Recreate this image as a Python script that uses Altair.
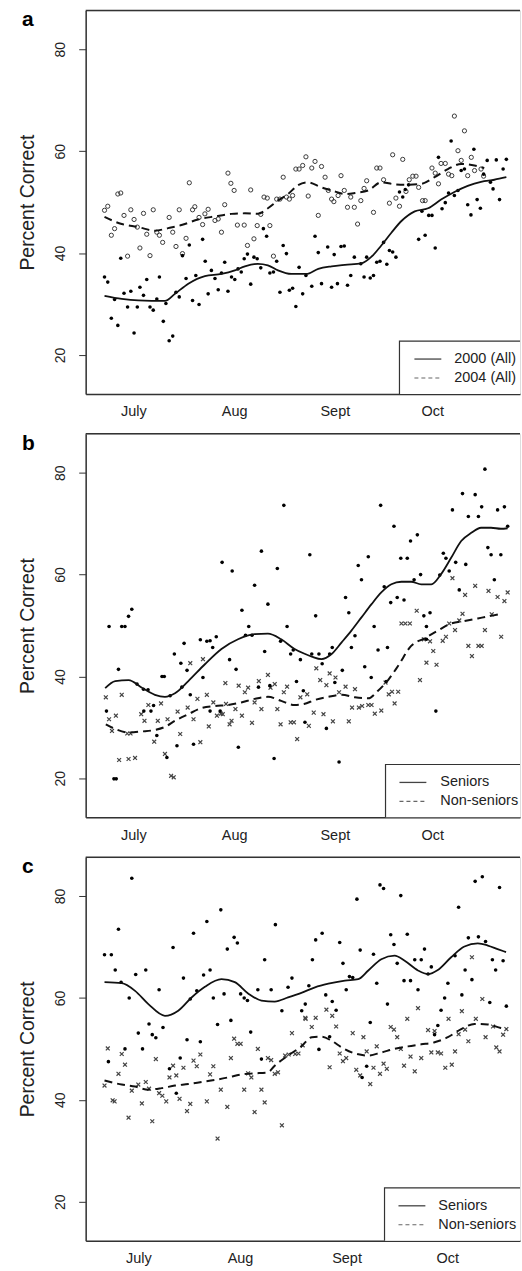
import altair as alt
import pandas as pd

FONT = "Liberation Sans"
W, H = 436, 385
XDOM = [-14.7, 119.0]
YDOM = [12.35, 87.65]
MONTHS = ["July", "Aug", "Sept", "Oct"]
MONTH_DAYS_AB = [0, 31, 62, 92]
MONTH_DAYS_C = [1.5, 32.8, 65.6, 96.6]
Y_TICKS = [20, 40, 60, 80]

# ---------------- panel a ----------------
A_2000 = [(-8.9,35.3),(-7.9,34.3),(-6.8,27.2),(-5.8,30.9),(-4.8,25.8),(-3.9,39.0),(-2.9,32.1),(-1.8,29.4),(-0.8,32.5),(0.2,24.3),
          (1.2,29.4),(2.0,33.3),(3.1,31.7),(4.1,34.8),(5.1,29.4),(6.1,28.8),(7.2,31.0),(8.0,35.3),(9.2,26.6),(10.0,30.1),
          (11.0,22.8),(12.1,23.7),(13.1,32.3),(14.1,31.4),(15.1,39.5),(16.2,35.0),(17.2,41.6),(18.2,30.7),(19.2,35.6),(20.2,29.9),
          (21.3,42.7),(22.1,38.4),(23.0,32.0),(24.0,36.6),(25.1,35.0),(26.1,32.8),(27.1,36.1),(28.1,38.2),(29.1,32.5),(30.2,35.3),
          (31.2,34.8),(32.2,36.9),(33.2,36.3),(34.1,38.9),(35.1,39.8),(36.1,33.9),(37.1,39.2),(38.1,38.9),(39.2,37.1),(40.0,44.8),
          (41.0,43.3),(42.0,36.1),(43.1,36.3),(44.1,38.4),(45.1,32.3),(46.1,41.5),(47.1,39.9),(48.0,32.7),(49.0,33.1),(50.0,29.5),
          (51.0,37.2),(52.1,32.0),(53.1,35.6),(54.9,33.5),(55.9,43.3),(56.9,40.1),(57.9,34.0),(59.8,41.2),(61.0,33.3),(61.8,39.7),
          (62.8,34.0),(63.9,41.3),(64.9,41.4),(65.9,33.7),(66.9,35.6),(68.0,39.2),(70.0,37.9),(71.0,35.3),(71.8,39.2),(72.9,35.1),
          (73.9,35.6),(74.9,38.2),(75.9,38.4),(77.0,42.1),(78.0,37.8),(78.8,40.5),(79.8,40.2),(80.8,39.2),(81.9,52.0),(82.9,51.0),
          (83.7,52.5),(84.7,53.4),(87.8,42.7),(88.8,48.2),(89.8,43.5),(90.9,47.4),(91.9,47.4),(92.9,41.0),(93.9,58.8),(95.0,48.7),
          (96.0,49.9),(97.0,51.8),(97.8,62.0),(98.8,51.3),(99.9,52.3),(100.9,56.2),(101.9,56.5),(102.9,49.5),(103.9,47.5),(104.8,60.4),
          (105.8,50.5),(106.8,48.8),(107.8,55.5),(108.9,58.2),(109.9,53.9),(110.7,52.6),(111.7,58.3),(112.7,50.5),(113.8,56.5),(114.8,58.4)]
A_2004 = [(-8.9,48.4),(-7.9,49.2),(-6.8,43.5),(-5.8,44.8),(-4.8,51.6),(-3.9,51.8),(-2.9,47.4),(-1.8,39.4),(-0.8,48.5),(0.2,46.6),
          (1.2,45.1),(2.0,41.0),(3.1,47.8),(4.1,43.7),(5.1,39.5),(6.1,48.5),(7.2,44.1),(8.0,43.5),(9.0,42.1),(11.0,47.0),
          (12.1,44.1),(13.1,41.3),(14.1,48.5),(15.1,39.9),(16.2,42.9),(17.2,53.8),(18.2,48.5),(18.9,49.1),(20.2,47.0),(21.3,45.6),
          (22.0,47.7),(23.0,48.6),(25.1,46.4),(26.1,46.7),(27.1,44.1),(28.1,49.5),(29.1,55.7),(30.0,53.7),(31.0,52.3),(32.0,45.5),
          (34.1,45.5),(35.1,41.5),(36.1,52.4),(37.1,42.8),(38.1,45.4),(39.2,47.6),(40.2,51.0),(41.2,50.8),(42.0,45.4),(43.1,39.4),
          (44.1,50.6),(45.1,50.6),(46.1,54.9),(47.1,51.0),(48.0,50.6),(49.0,51.3),(50.0,56.5),(51.0,56.5),(52.1,57.2),(53.1,58.9),
          (53.8,51.2),(54.9,56.7),(55.9,58.0),(56.9,47.4),(57.9,57.0),(59.0,54.9),(60.0,52.3),(61.0,50.6),(61.7,50.1),(63.0,51.3),
          (63.9,55.2),(64.9,52.3),(65.9,49.0),(66.9,51.0),(68.0,49.0),(69.0,45.7),(70.0,50.3),(71.0,52.7),(71.8,54.2),(73.9,48.0),
          (74.9,56.7),(75.9,56.7),(77.0,54.4),(78.8,49.8),(79.8,59.3),(80.8,50.8),(81.9,49.2),(82.9,58.4),(83.9,52.1),(84.9,54.4),
          (86.0,55.1),(87.0,55.1),(87.8,52.9),(89.0,50.3),(89.8,50.3),(91.9,56.7),(92.9,55.7),(93.9,53.6),(94.7,57.6),(96.0,57.6),
          (97.0,55.5),(98.0,55.2),(98.8,66.9),(99.9,60.1),(100.9,58.2),(101.9,64.0),(102.9,55.2),(104.0,58.8),(105.0,56.2),(107.0,56.5),
          (107.8,55.1)]
A_2000_FIT = [(-8.9,31.6),(-3.6,31.0),(1.5,30.7),(9.7,30.6),(12.8,32.0),(16.9,34.0),(22.0,35.5),(27.1,35.9),(31.2,36.6),(34.3,37.4),
              (38.3,37.9),(41.4,37.6),(44.5,36.6),(48.6,35.9),(53.2,35.9),(56.9,36.9),(61.0,37.4),(65.1,37.7),(70.2,38.0),(73.3,39.3),
              (76.3,41.5),(79.4,44.0),(82.5,46.3),(86.6,48.2),(90.7,48.8),(94.7,50.5),(98.8,52.0),(102.9,53.2),(107.0,54.0),(111.1,54.4),
              (114.8,54.9)]
A_2004_FIT = [(-8.9,47.1),(-3.6,45.7),(1.5,45.1),(6.6,44.4),(10.7,44.9),(14.8,45.5),(19.9,46.6),(25.1,47.2),(30.2,47.7),(34.3,47.8),
              (38.3,47.7),(41.4,48.8),(44.5,50.3),(47.6,51.6),(50.6,53.3),(53.5,53.9),(57.9,52.9),(62.0,52.1),(65.1,51.6),(68.2,51.8),
              (72.3,52.3),(76.3,53.9),(80.4,53.5),(84.5,53.4),(88.6,53.6),(92.7,54.9),(96.8,56.5),(100.9,57.5),(105.0,57.2),(108.0,56.7)]

# ---------------- panel b ----------------
B_SEN = [(-8.3,33.2),(-6.0,19.9),(-5.3,19.9),(1.1,38.5),(3.1,37.5),(4.5,37.4),(3.2,33.2),(5.4,33.2),(6.2,34.3),(7.2,28.4),
         (8.8,40.0),(9.5,40.0),(10.3,24.1),(11.3,36.2),(13.4,26.4),(14.9,37.9),(18.5,26.7),(17.5,36.4),(21.4,39.8),(23.6,33.2),
         (26.7,33.2),(32.3,26.1),(38.5,37.9),(42.0,38.2),(43.3,23.9),(50.2,39.0),(52.3,37.2),(52.8,31.0),(59.4,29.8),(62.0,38.8),
         (63.3,23.2),(73.2,39.8),(77.8,39.0),(93.1,33.2),
         (-7.5,49.8),(-3.6,49.8),(-2.6,49.8),(-1.5,51.8),(-0.5,53.2),(-4.6,41.4),(12.6,44.4),(14.6,42.6),(15.6,46.5),(16.5,41.2),
         (20.6,47.2),(22.6,46.9),(23.6,47.0),(24.4,45.7),(25.5,47.8),(29.6,43.3),(31.6,41.4),(33.4,53.0),(34.5,48.1),(35.5,49.8),
         (36.5,48.1),(37.3,57.9),(39.4,64.6),(41.4,54.2),(44.3,61.2),(40.4,44.9),(45.3,46.9),(46.3,73.6),(47.3,49.8),(48.4,44.4),
         (49.2,45.2),(51.4,43.3),(27.3,62.4),(30.4,60.7),
         (54.3,63.9),(56.1,51.9),(54.9,44.4),(57.1,44.4),(58.1,42.5),(61.2,45.7),(60.4,44.4),(64.3,41.2),(65.3,55.5),(66.3,52.5),
         (67.1,45.7),(68.2,48.0),(69.2,61.8),(70.2,59.0),(71.2,41.9),(72.3,63.5),(74.1,49.8),(75.3,45.2),(76.1,73.6),(77.2,57.6),
         (78.2,45.7),(79.2,54.5),(80.2,69.5),(81.2,55.5),(82.3,63.2),(83.3,55.0),(84.3,63.2),(85.3,66.6),(86.4,59.0),(87.4,67.8),
         (88.4,60.0),(89.4,51.9),(90.2,49.8),(91.3,52.5),(90.2,47.3),(94.3,59.9),(95.4,64.2),(96.2,63.2),(97.2,60.7),(99.2,62.4),
         (98.2,72.7),(100.3,57.0),(101.3,75.9),(102.3,62.0),(103.1,71.4),(105.2,75.7),(106.2,71.4),(107.2,73.3),(108.2,80.7),(109.1,65.3),
         (110.1,63.9),(111.1,59.0),(112.1,72.7),(113.1,63.9),(114.2,73.3),(115.2,69.5)]
B_NON = [(-8.5,35.9),(-3.6,36.4),(-7.5,31.6),(-5.4,32.3),(4.6,34.4),(8.5,34.7),(2.4,32.6),(3.4,31.3),(7.5,31.3),(10.5,31.6),
         (13.6,33.1),(16.7,33.9),(18.5,31.6),(19.7,35.6),(22.6,36.4),(24.6,34.9),(25.7,32.3),(26.9,32.7),(27.5,32.6),(28.5,34.6),
         (31.4,33.6),(32.4,38.2),(33.4,32.3),(34.3,36.9),(35.3,37.8),(36.5,30.9),(37.3,34.9),(38.6,39.1),(39.4,33.6),(41.4,40.3),
         (42.2,37.8),(43.5,38.5),(44.3,33.6),(45.3,30.6),(46.3,36.9),(47.3,38.0),(48.4,31.0),(49.4,31.0),(50.4,27.7),(51.4,35.9),
         (53.5,36.5),(17.5,42.6),(21.4,43.4),(28.3,38.7),(30.2,31.3),(29.6,30.6),(23.2,30.2),(14.4,28.7),(6.4,27.2),(-1.9,28.8),
         (-0.9,28.8),(-6.6,29.3),(-4.4,23.6),(-1.5,23.8),(0.5,24.0),(9.7,24.8),(11.6,20.5),(12.4,20.2),(20.6,27.1),
         (54.0,30.3),(55.5,32.9),(56.3,41.6),(57.5,39.3),(58.5,32.6),(59.4,38.3),(60.4,40.6),(61.4,31.2),(62.2,39.8),(63.3,36.9),
         (65.3,38.0),(66.3,31.2),(67.3,33.9),(68.2,37.5),(69.4,33.9),(70.4,34.2),(72.3,34.4),(73.3,34.4),(74.3,32.7),(76.3,33.3),
         (77.6,38.8),(78.6,36.5),(79.6,37.0),(80.4,34.7),(81.5,37.0),(82.5,50.4),(83.7,50.4),(85.1,50.4),(87.2,52.9),(88.2,39.3),
         (89.4,47.3),(90.2,42.7),(91.3,46.9),(92.3,45.0),(93.3,42.3),(95.2,47.0),(96.2,47.8),(97.2,50.4),(98.2,59.3),(99.0,49.1),
         (100.3,51.0),(101.3,52.3),(102.1,56.0),(103.1,46.0),(104.2,44.0),(105.2,57.8),(106.2,46.0),(107.2,46.0),(108.2,49.1),(109.3,56.8),
         (110.3,52.2),(112.1,55.6),(113.2,47.8),(114.2,54.8),(115.2,56.5)]
B_SEN_FIT = [(-8.7,37.7),(-5.6,39.1),(-1.5,39.3),(2.6,37.8),(6.6,36.4),(9.7,36.0),(12.8,36.7),(16.9,39.1),(22.0,42.4),(27.1,45.4),
             (32.2,47.3),(37.3,48.3),(41.4,48.4),(45.5,47.3),(49.6,45.4),(52.5,44.5),(54.9,43.9),(57.9,43.4),(61.0,44.4),(64.1,46.7),
             (67.1,49.0),(70.2,51.6),(73.3,54.2),(76.3,56.5),(79.4,58.1),(82.5,58.6),(85.5,58.6),(88.6,58.1),(91.7,58.1),(94.7,60.1),
             (97.8,63.3),(100.9,66.6),(104.0,68.2),(107.0,69.2),(110.1,69.2),(113.1,69.0),(115.2,69.1)]
B_NON_FIT = [(-8.5,30.6),(-5.6,29.7),(-1.5,29.0),(2.6,29.2),(6.6,29.5),(9.7,30.1),(12.8,31.3),(16.9,32.6),(21.0,33.8),(25.1,34.2),
             (29.1,34.4),(33.2,34.9),(37.3,35.6),(41.4,36.0),(45.5,35.2),(49.6,34.4),(52.5,34.6),(55.9,35.4),(60.0,36.0),(64.1,36.4),
             (68.2,35.9),(72.3,35.7),(75.3,37.2),(78.4,39.3),(81.5,42.1),(85.5,46.0),(89.6,47.5),(93.7,49.0),(97.8,50.4),(101.9,50.9),
             (106.0,51.4),(110.1,51.9),(113.1,52.3)]

# ---------------- panel c ----------------
C_SEN = [(-8.9,68.5),(-6.8,68.5),(-5.6,65.5),(-4.6,73.5),(-3.8,63.1),(-1.3,60.0),(-0.5,83.5),(0.7,64.6),(1.5,53.1),(2.8,50.0),
         (3.8,65.5),(4.8,54.9),(5.8,52.8),(6.9,52.2),(7.9,61.6),(9.1,54.2),(11.1,46.1),(12.2,69.9),(13.2,41.3),(14.4,48.2),
         (15.4,63.9),(16.5,51.8),(17.5,59.8),(18.5,72.7),(19.5,61.4),(20.6,51.4),(21.6,64.5),(22.6,75.0),(23.6,65.5),(24.6,60.0),
         (25.9,54.8),(26.9,77.3),(27.9,60.8),(28.9,69.6),(30.0,55.6),(31.0,71.9),(32.0,70.8),(33.0,60.8),(34.1,60.0),(35.1,59.5),
         (36.1,53.3),(38.3,61.6),(39.4,48.0),(40.4,67.5),(42.4,61.6),(43.7,74.4),(45.7,57.5),(47.6,62.1),(48.8,63.9),(51.8,57.5),
         (52.9,58.8),(-7.7,47.5),(-2.6,50.0),
         (54.0,62.4),(55.1,67.5),(56.1,71.4),(58.1,72.7),(59.2,60.6),(61.2,59.3),(62.4,57.6),(63.5,70.9),(64.5,66.8),(65.5,61.6),
         (66.5,64.2),(67.5,64.0),(68.8,79.4),(69.8,69.4),(72.9,55.2),(73.9,68.6),(74.9,62.9),(75.9,82.2),(77.0,81.5),(78.2,58.8),
         (79.2,72.4),(80.2,70.5),(81.2,66.8),(82.3,80.1),(83.3,63.4),(84.3,72.5),(85.3,63.4),(86.6,67.5),(87.6,61.6),(88.6,67.5),
         (89.6,69.6),(90.7,64.7),(91.7,66.1),(92.7,52.8),(93.7,54.6),(94.7,57.6),(95.8,60.0),(96.8,62.9),(99.0,68.3),(100.1,77.8),
         (101.1,60.6),(102.1,65.5),(103.1,71.8),(104.2,63.6),(105.2,82.9),(106.2,72.0),(107.4,83.8),(108.4,71.1),(109.7,59.1),(110.5,67.5),
         (111.5,65.5),(112.7,81.7),(113.8,67.3),(114.8,58.4),(71.8,46.6),(70.4,44.4),(60.4,52.4),(57.1,49.9)]
C_NON = [(-7.9,50.1),(-8.9,42.8),(-6.4,39.9),(-5.8,39.7),(-4.6,45.1),(-3.6,49.0),(-2.6,46.9),(-1.5,36.5),(-0.5,41.8),(1.5,43.0),
         (2.6,39.3),(3.8,43.5),(4.8,42.2),(5.8,35.8),(6.9,48.0),(7.9,41.3),(8.9,40.8),(10.1,39.7),(11.1,44.4),(12.2,46.7),
         (13.2,44.8),(14.2,40.2),(15.4,46.3),(16.5,37.8),(17.5,39.2),(18.5,47.7),(19.5,46.6),(20.6,48.9),(22.6,39.7),(23.6,45.0),
         (24.6,46.6),(25.9,32.4),(26.9,42.0),(28.9,38.6),(30.0,48.2),(31.0,52.0),(32.0,51.0),(33.0,51.0),(34.1,42.0),(35.3,45.2),
         (36.3,44.4),(37.3,37.6),(38.3,50.0),(39.4,42.0),(40.4,39.5),(41.4,48.2),(42.4,47.8),(43.5,45.1),(44.5,45.4),(45.7,35.0),
         (46.7,48.7),(47.8,48.9),(48.8,53.1),(49.8,49.0),(50.8,49.1),(52.9,56.1),(52.1,50.7),
         (53.0,55.9),(54.9,54.3),(56.1,56.1),(59.4,57.7),(61.2,56.5),(62.4,54.4),(60.4,46.4),(63.5,49.1),(64.5,47.6),(65.5,48.2),
         (67.5,53.1),(68.6,45.9),(69.8,44.8),(70.8,52.3),(71.8,49.5),(72.9,43.1),(73.9,46.3),(74.9,50.5),(75.9,45.1),(77.0,47.1),
         (78.0,46.1),(79.2,54.3),(80.2,53.8),(81.2,52.3),(82.3,50.0),(83.3,46.7),(84.3,55.9),(85.3,48.5),(86.6,45.6),(87.6,58.0),
         (88.6,48.2),(90.7,53.7),(91.7,49.3),(92.7,53.5),(93.7,49.3),(94.7,49.1),(96.0,46.3),(97.0,55.9),(98.0,46.9),(99.0,49.5),
         (100.1,52.9),(101.1,57.4),(102.1,53.8),(103.1,51.5),(104.2,68.0),(105.4,55.9),(107.4,59.8),(108.4,52.3),(110.7,54.4),(111.7,50.3),
         (112.7,49.5),(113.8,52.8),(114.8,53.9)]
C_SEN_FIT = [(-8.9,63.1),(-3.6,62.9),(0.5,61.4),(4.6,58.8),(9.7,56.5),(13.8,57.5),(17.9,60.1),(22.0,62.2),(27.1,63.7),(31.2,63.1),
             (35.3,60.9),(39.4,59.5),(43.5,59.3),(47.6,60.1),(51.7,61.0),(55.9,62.1),(60.0,62.8),(65.1,63.4),(69.2,63.7),(72.3,65.4),
             (76.3,67.6),(80.4,68.3),(83.5,67.3),(87.6,65.4),(90.7,64.7),(93.7,65.5),(97.8,68.0),(101.9,70.1),(106.0,70.7),(109.1,70.3),
             (112.1,69.6),(114.7,69.0)]
C_NON_FIT = [(-8.9,43.8),(-3.6,43.0),(0.5,42.6),(4.6,42.0),(8.7,42.3),(12.8,42.8),(16.9,43.1),(21.0,43.5),(25.1,43.9),(29.1,44.4),
             (33.2,45.0),(37.3,45.2),(41.4,45.4),(43.5,46.7),(47.6,48.7),(51.7,50.5),(54.9,52.3),(57.9,52.4),(61.0,51.6),(64.1,50.3),
             (68.2,49.1),(72.3,48.7),(76.3,49.3),(80.4,50.0),(84.5,50.5),(88.6,50.9),(92.7,51.3),(96.8,52.3),(100.9,53.9),(105.0,54.9),
             (109.1,54.8),(113.1,54.1),(114.8,53.9)]

LEGEND_A = ["2000 (All)", "2004 (All)"]
LEGEND_BC = ["Seniors", "Non-seniors"]

INK = "#222222"
FRAME = "#333333"
XSHAPE = "M-1,-1L1,1M1,-1L-1,1"


def frame(rows):
    return pd.DataFrame(rows, columns=["day", "pct"])


def one():
    return alt.Data(values=[{"k": 0}])


def panel(letter, s1, s2, f1, f2, labels, open_circles, month_days, leg_left, line_left, text_left, spacer=False):
    label_expr = " : ".join(
        f"datum.value == {d} ? '{m}'" for d, m in zip(month_days, MONTHS)
    ) + " : ''"
    x = alt.X("day:Q",
              scale=alt.Scale(domain=XDOM, nice=False, zero=False),
              axis=alt.Axis(values=month_days, labelExpr=label_expr, ticks=False, grid=False,
                            domainColor=FRAME, domainWidth=1.5, labelFont=FONT, labelFontSize=14.5,
                            labelColor=INK, labelPadding=11, title=None, labelFlush=False))
    y = alt.Y("pct:Q",
              scale=alt.Scale(domain=YDOM, nice=False, zero=False),
              axis=alt.Axis(values=Y_TICKS, format="d", tickSize=7, tickColor=FRAME, tickWidth=1,
                            domainColor=FRAME, domainWidth=1.5, grid=False,
                            labelAngle=270, labelAlign="center", labelBaseline="alphabetic",
                            labelPadding=14, labelFont=FONT, labelFontSize=14, labelColor=INK,
                            title="Percent Correct", titleFont=FONT, titleFontSize=19.5,
                            titleFontWeight="normal", titleColor=INK, titleAngle=270,
                            titleBaseline="alphabetic", titleAlign="center", titleX=-52, titleY=H / 2))

    p1 = alt.Chart(frame(s1)).mark_point(shape="circle", filled=True, size=13, color="#000000",
                                         opacity=1).encode(x=x, y=y)
    if open_circles:
        p2 = alt.Chart(frame(s2)).mark_point(shape="circle", filled=False, size=18, strokeWidth=1,
                                             color="#3a3a3a", opacity=1).encode(x=x, y=y)
    else:
        p2 = alt.Chart(frame(s2)).mark_point(shape=XSHAPE, filled=False, size=15, strokeWidth=1.2,
                                             color="#444444", opacity=1).encode(x=x, y=y)
    l1 = alt.Chart(frame(f1)).mark_line(color="#111111", strokeWidth=1.8,
                                        interpolate="monotone").encode(x=x, y=y)
    l2 = alt.Chart(frame(f2)).mark_line(color="#111111", strokeWidth=2, strokeDash=[8, 5],
                                        interpolate="monotone").encode(x=x, y=y)

    top = alt.Chart(one()).mark_rule(color=FRAME, strokeWidth=1.5).encode(
        x=alt.value(0), x2=alt.value(W), y=alt.value(0))

    box = alt.Chart(one()).mark_rect(fill="white", stroke=FRAME, strokeWidth=1.2, clip=True).encode(
        x=alt.value(leg_left), x2=alt.value(W + 30), y=alt.value(H - 53), y2=alt.value(H + 5))
    r1 = alt.Chart(one()).mark_rule(color="#444444", strokeWidth=1.3).encode(
        x=alt.value(line_left), x2=alt.value(line_left + 27), y=alt.value(H - 35))
    r2 = alt.Chart(one()).mark_rule(color="#666666", strokeWidth=1.2, strokeDash=[4, 3]).encode(
        x=alt.value(line_left), x2=alt.value(line_left + 27), y=alt.value(H - 16))
    t1 = alt.Chart(one()).mark_text(align="left", baseline="middle", font=FONT, fontSize=14.5,
                                    color=INK, clip=True).encode(
        x=alt.value(text_left), y=alt.value(H - 35), text=alt.value(labels[0]))
    t2 = alt.Chart(one()).mark_text(align="left", baseline="middle", font=FONT, fontSize=14.5,
                                    color=INK, clip=True).encode(
        x=alt.value(text_left), y=alt.value(H - 16), text=alt.value(labels[1]))

    lab = alt.Chart(one()).mark_text(align="left", baseline="alphabetic", font=FONT, fontSize=21,
                                     fontWeight="bold", color="#000000").encode(
        x=alt.value(-64), y=alt.value(16), text=alt.value(letter))

    layers = [p2, p1, l2, l1, top, box, r1, r2, t1, t2, lab]
    if spacer:
        sp = alt.Chart(one()).mark_rect(fill="white", opacity=1).encode(
            x=alt.value(-85), x2=alt.value(-80), y=alt.value(-7), y2=alt.value(0))
        layers.append(sp)
    return alt.layer(*layers).properties(width=W, height=H)


pa = panel("a", A_2000, A_2004, A_2000_FIT, A_2004_FIT, LEGEND_A, True, MONTH_DAYS_AB, 315, 330, 370, spacer=True)
pb = panel("b", B_SEN, B_NON, B_SEN_FIT, B_NON_FIT, LEGEND_BC, False, MONTH_DAYS_AB, 301, 315, 356)
pc = panel("c", C_SEN, C_NON, C_SEN_FIT, C_NON_FIT, LEGEND_BC, False, MONTH_DAYS_C, 300, 314, 354)

chart = alt.vconcat(pa, pb, pc, spacing=40, bounds="flush").properties(
    padding={"left": 0, "top": 0, "right": 0, "bottom": 0}
).configure_view(stroke=None).configure(background="white")

chart.save("out.html", embed_options={"renderer": "svg", "actions": False})
